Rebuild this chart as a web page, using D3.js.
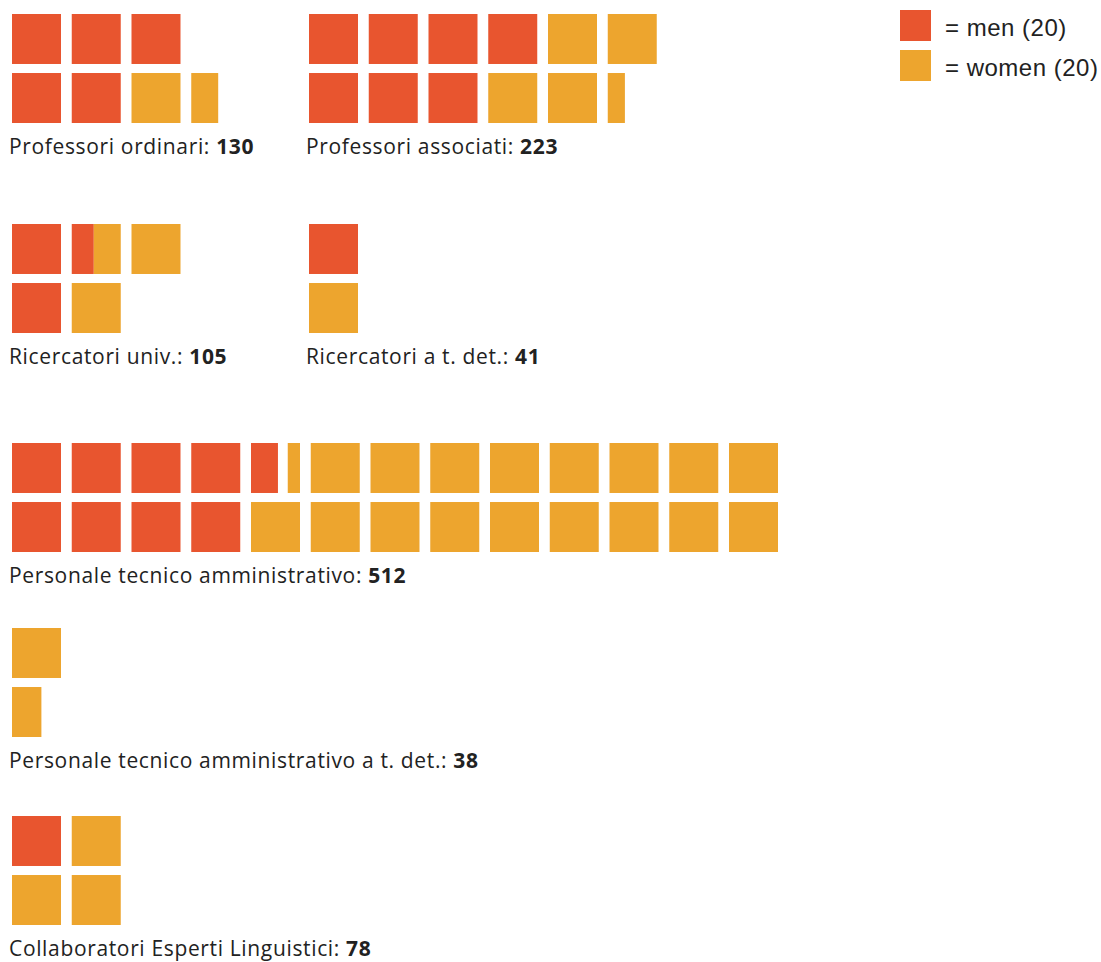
<!DOCTYPE html>
<meta charset="UTF-8">
<style>
body {
  margin: 0;
  background: #fff;
}
.label {
  font: 21px "Open Sans", sans-serif;
  letter-spacing: 0.65px;
  fill: #222;
}
.label .num {
  font-weight: 700;
}
.legend text {
  font: 24px "Liberation Sans", Arial, sans-serif;
  letter-spacing: 0.5px;
  fill: #222;
}
</style>
<body>
<script src="https://d3js.org/d3.v7.min.js"></script>
<script type="text/javascript">

// each square stands for 20 people
var unit = 20;

var categories = [
  "Professori ordinari",
  "Professori associati",
  "Ricercatori univ.",
  "Ricercatori a t. det.",
  "Personale tecnico amministrativo",
  "Personale tecnico amministrativo a t. det.",
  "Collaboratori Esperti Linguistici"
];
var totals = [130, 223, 105, 41, 512, 38, 78];
var men   = [100, 140, 49, 20, 171, 0, 20];
var women = [31, 87, 51, 20, 345, 32, 60];

var legendLabels = ["= men (20)", "= women (20)"];

var colors = { m: "#e8552f", w: "#eda52e" };

// where each block sits on the page
var blockX = [12, 309, 12, 309, 12, 12, 12];
var blockY = [14, 14, 224, 224, 443, 628, 816];

var width = 1101, height = 962;

var svg = d3.select("body").append("svg")
    .attr("width", width)
    .attr("height", height);

// columns and the two rows of a block
var maxCols = 13;
var x = d3.scaleBand()
    .domain(d3.range(maxCols))
    .range([0, 766])
    .paddingInner(0.18);

var y = d3.scaleBand()
    .domain([0, 1])
    .range([0, 109])
    .paddingInner(0.153);

// fill slots column by column (top then bottom)
function buildCells(m, w) {
  var cells = [];
  var slot = 0;
  var mu = m / unit, wu = w / unit;
  var mFull = Math.floor(mu + 1e-9), mFrac = mu - mFull;
  var wFull = Math.floor(wu + 1e-9), wFrac = wu - wFull;
  var i;

  for (i = 0; i < mFull; i++) cells.push({slot: slot++, x0: 0, f: 1, sex: "m"});

  if (mFrac > 0.01) {
    // men and women share this square
    cells.push({slot: slot, x0: 0, f: mFrac, sex: "m"});
    if (wFrac > 0.01) cells.push({slot: slot, x0: 1 - wFrac, f: wFrac, sex: "w"});
    slot++;
    for (i = 0; i < wFull; i++) cells.push({slot: slot++, x0: 0, f: 1, sex: "w"});
  } else {
    for (i = 0; i < wFull; i++) cells.push({slot: slot++, x0: 0, f: 1, sex: "w"});
    if (wFrac > 0.01) {
      // a lone partial square starting a new column goes in the bottom row
      if (slot % 2 === 0 && slot > 0) slot++;
      cells.push({slot: slot, x0: 0, f: wFrac, sex: "w"});
    }
  }
  cells.forEach(function(c) {
    c.col = Math.floor(c.slot / 2);
    c.row = c.slot % 2;
  });
  return cells;
}

var blocks = categories.map(function(name, i) {
  return {
    name: name,
    total: totals[i],
    cells: buildCells(men[i], women[i]),
    bx: blockX[i],
    by: blockY[i]
  };
});

var block = svg.selectAll("g.block")
    .data(blocks)
  .enter().append("g")
    .attr("class", "block")
    .attr("transform", function(d) { return "translate(" + d.bx + "," + d.by + ")"; });

block.selectAll("rect")
    .data(function(d) { return d.cells; })
  .enter().append("rect")
    .attr("x", function(c) { return x(c.col) + c.x0 * x.bandwidth(); })
    .attr("y", function(c) { return y(c.row); })
    .attr("width", function(c) { return c.f * x.bandwidth(); })
    .attr("height", y.bandwidth())
    .attr("fill", function(c) { return colors[c.sex]; });

var label = block.append("text")
    .attr("class", "label")
    .attr("x", -3)
    .attr("y", 140);

label.append("tspan")
    .text(function(d) { return d.name + ": "; });
label.append("tspan")
    .attr("class", "num")
    .text(function(d) { return d.total; });

// legend
var legend = svg.append("g")
    .attr("class", "legend")
    .attr("transform", "translate(900,10)");

var item = legend.selectAll("g")
    .data(legendLabels)
  .enter().append("g")
    .attr("transform", function(d, i) { return "translate(0," + (i * 40) + ")"; });

item.append("rect")
    .attr("width", 31)
    .attr("height", 31)
    .attr("fill", function(d, i) { return i === 0 ? colors.m : colors.w; });

item.append("text")
    .attr("x", 45)
    .attr("y", 26)
    .text(function(d) { return d; });

</script>
</body>
